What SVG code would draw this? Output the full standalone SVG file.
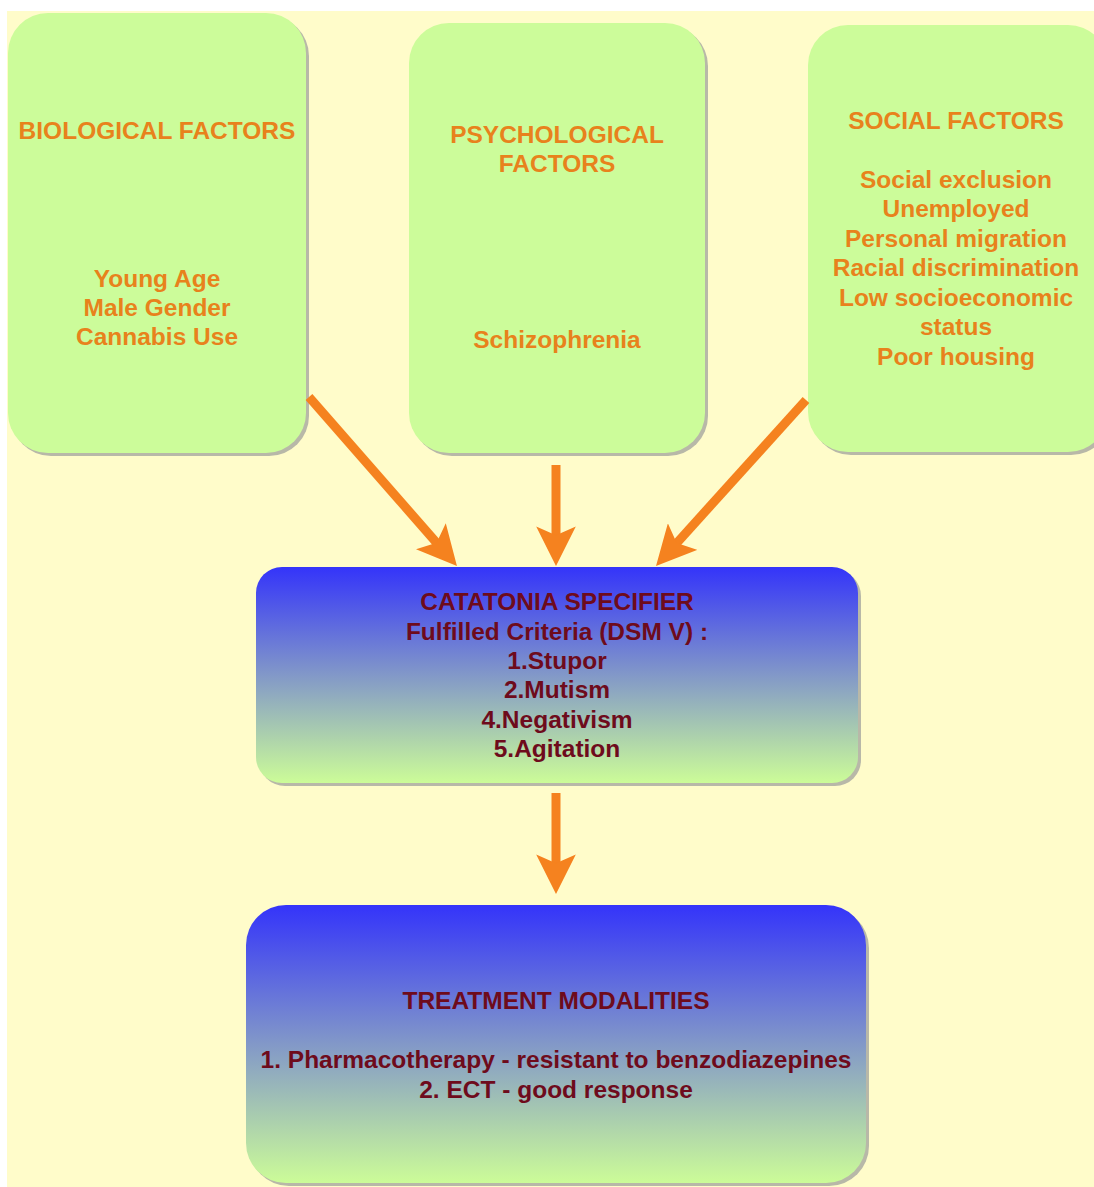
<svg xmlns="http://www.w3.org/2000/svg" width="1094" height="1187" viewBox="0 0 1094 1187">
  <defs>
    <linearGradient id="blueGreen" x1="0" y1="0" x2="0" y2="1">
      <stop offset="0" stop-color="#3434FA"/>
      <stop offset="0.5" stop-color="#8298C8"/>
      <stop offset="1" stop-color="#CCFC98"/>
    </linearGradient>
    <marker id="head" viewBox="0 0 10 10" refX="3" refY="5" markerWidth="4.4" markerHeight="4.4" markerUnits="strokeWidth" orient="auto">
      <path d="M0,0 L10,5 L0,10 L2.2,5 Z" fill="#F5821F"/>
    </marker>
  </defs>
  <style>
    .shadow { fill: #B8B8A8; }
    .green { fill: #CCFC9A; }
    .grad { fill: url(#blueGreen); }
    .orange { font-family: "Liberation Sans", Arial, sans-serif; font-weight: bold; font-size: 24.5px; fill: #E8821C; text-anchor: middle; }
    .dark { font-family: "Liberation Sans", Arial, sans-serif; font-weight: bold; font-size: 24.5px; fill: #6E0B1C; text-anchor: middle; }
    .conn { stroke: #F5821F; stroke-width: 9; fill: none; marker-end: url(#head); }
  </style>
  <rect x="0" y="0" width="1094" height="1187" fill="#FFFFFF"/>
  <rect x="7" y="11" width="1087" height="1176" fill="#FFFCCA"/>

  <g id="biological">
    <rect class="shadow" x="11" y="16" width="298" height="440" rx="40"/>
    <rect class="green" x="8" y="13" width="298" height="440" rx="40"/>
    <text class="orange" x="157" y="139">BIOLOGICAL FACTORS</text>
    <text class="orange" x="157" y="287">Young Age</text>
    <text class="orange" x="157" y="316">Male Gender</text>
    <text class="orange" x="157" y="345">Cannabis Use</text>
  </g>

  <g id="psychological">
    <rect class="shadow" x="412" y="26" width="296" height="430" rx="40"/>
    <rect class="green" x="409" y="23" width="296" height="430" rx="40"/>
    <text class="orange" x="557" y="143">PSYCHOLOGICAL</text>
    <text class="orange" x="557" y="172">FACTORS</text>
    <text class="orange" x="557" y="348">Schizophrenia</text>
  </g>

  <g id="social">
    <rect class="shadow" x="811" y="28" width="300" height="427" rx="40"/>
    <rect class="green" x="808" y="25" width="300" height="427" rx="40"/>
    <text class="orange" x="956" y="129">SOCIAL FACTORS</text>
    <text class="orange" x="956" y="188">Social exclusion</text>
    <text class="orange" x="956" y="217">Unemployed</text>
    <text class="orange" x="956" y="247">Personal migration</text>
    <text class="orange" x="956" y="276">Racial discrimination</text>
    <text class="orange" x="956" y="306">Low socioeconomic</text>
    <text class="orange" x="956" y="335">status</text>
    <text class="orange" x="956" y="365">Poor housing</text>
  </g>

  <g id="catatonia">
    <rect class="shadow" x="259" y="570" width="602" height="216" rx="26"/>
    <rect class="grad" x="256" y="567" width="602" height="216" rx="26"/>
    <text class="dark" x="557" y="610">CATATONIA SPECIFIER</text>
    <text class="dark" x="557" y="640">Fulfilled Criteria (DSM V) :</text>
    <text class="dark" x="557" y="669">1.Stupor</text>
    <text class="dark" x="557" y="698">2.Mutism</text>
    <text class="dark" x="557" y="728">4.Negativism</text>
    <text class="dark" x="557" y="757">5.Agitation</text>
  </g>

  <g id="treatment">
    <rect class="shadow" x="249" y="908" width="620" height="278" rx="40"/>
    <rect class="grad" x="246" y="905" width="620" height="278" rx="40"/>
    <text class="dark" x="556" y="1009">TREATMENT MODALITIES</text>
    <text class="dark" x="556" y="1068">1. Pharmacotherapy - resistant to benzodiazepines</text>
    <text class="dark" x="556" y="1098">2. ECT - good response</text>
  </g>

  <g id="connectors">
    <line class="conn" x1="309" y1="397" x2="438.7" y2="545.2"/>
    <line class="conn" x1="556" y1="465" x2="556" y2="538.3"/>
    <line class="conn" x1="806" y1="400" x2="674.6" y2="545.4"/>
    <line class="conn" x1="556" y1="793" x2="556" y2="866.3"/>
  </g>
</svg>
